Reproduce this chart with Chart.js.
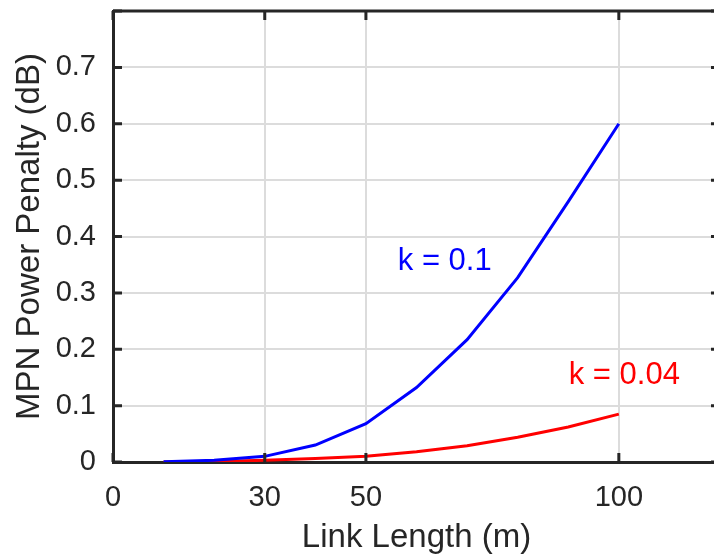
<!DOCTYPE html>
<html>
<head>
<meta charset="utf-8">
<script src="https://cdn.jsdelivr.net/npm/chart.js@4.4.1/dist/chart.umd.min.js"></script>
<style>
  html, body { margin: 0; padding: 0; background: #fff; overflow: hidden; }
  #wrap { width: 714px; height: 558px; overflow: hidden; }
</style>
</head>
<body>
<div id="wrap"><canvas id="myChart" width="724" height="558"></canvas></div>
<script>
// link lengths (m) and penalties (dB)
var linkLength = [10, 20, 30, 40, 50, 60, 70, 80, 90, 100];
var penaltyK01 = [0.0005, 0.003, 0.01, 0.03, 0.068, 0.132, 0.217, 0.327, 0.462, 0.6];
var penaltyK004 = [0.0002, 0.001, 0.003, 0.006, 0.01, 0.018, 0.029, 0.044, 0.062, 0.085];
var xTicks = [0, 30, 50, 100];
var yTicks = [0, 0.1, 0.2, 0.3, 0.4, 0.5, 0.6, 0.7];
var labels = [
  { text: "k = 0.1", x: 56.3, y: 0.355, color: "#0000ff" },
  { text: "k = 0.04", x: 90.1, y: 0.154, color: "#ff0000" }
];

var axisColor = "#262626";
var gridColor = "#dcdcdc";
var font = "'Liberation Sans', Arial, Helvetica, sans-serif";

function toPoints(xs, ys) {
  return xs.map(function (x, i) { return { x: x, y: ys[i] }; });
}

// box, inward ticks and text labels like the matlab figure
var extras = {
  id: "extras",
  afterDraw: function (chart) {
    var ctx = chart.ctx;
    var a = chart.chartArea;
    var xs = chart.scales.x, ys = chart.scales.y;
    ctx.save();
    ctx.strokeStyle = axisColor;
    ctx.lineWidth = 3;
    ctx.beginPath();
    ctx.moveTo(a.left, a.top);
    ctx.lineTo(a.right, a.top);
    ctx.lineTo(a.right, a.bottom);
    ctx.stroke();
    ctx.beginPath();
    xTicks.forEach(function (v) {
      var px = xs.getPixelForValue(v);
      ctx.moveTo(px, a.bottom);
      ctx.lineTo(px, a.bottom - 9);
      ctx.moveTo(px, a.top);
      ctx.lineTo(px, a.top + 9);
    });
    yTicks.concat([0.8]).forEach(function (v) {
      var py = ys.getPixelForValue(v);
      ctx.moveTo(a.left, py);
      ctx.lineTo(a.left + 9, py);
      ctx.moveTo(a.right, py);
      ctx.lineTo(a.right - 9, py);
    });
    ctx.stroke();
    ctx.font = "31px " + font;
    ctx.textBaseline = "middle";
    ctx.textAlign = "left";
    labels.forEach(function (l) {
      ctx.fillStyle = l.color;
      ctx.fillText(l.text, xs.getPixelForValue(l.x), ys.getPixelForValue(l.y));
    });
    ctx.restore();
  }
};

new Chart("myChart", {
  type: "line",
  data: {
    datasets: [
      {
        label: "k = 0.1",
        data: toPoints(linkLength, penaltyK01),
        borderColor: "#0000ff",
        borderWidth: 3,
        pointRadius: 0,
        tension: 0,
        fill: false
      },
      {
        label: "k = 0.04",
        data: toPoints(linkLength, penaltyK004),
        borderColor: "#ff0000",
        borderWidth: 3,
        pointRadius: 0,
        tension: 0,
        fill: false
      }
    ]
  },
  options: {
    responsive: false,
    animation: false,
    devicePixelRatio: 1,
    layout: { padding: { top: 11, right: 4, left: 0, bottom: 0 } },
    plugins: {
      legend: { display: false },
      tooltip: { enabled: false }
    },
    scales: {
      x: {
        type: "linear",
        min: 0,
        max: 120,
        afterBuildTicks: function (scale) {
          scale.ticks = xTicks.map(function (v) { return { value: v }; });
        },
        afterFit: function (scale) {
          scale.height = 96;
          scale.paddingLeft = 0;
          scale.paddingRight = 0;
        },
        grid: { color: gridColor, lineWidth: 2, drawTicks: false },
        border: { color: axisColor, width: 3 },
        ticks: {
          color: axisColor,
          padding: 19,
          maxRotation: 0,
          font: { family: font, size: 29 }
        },
        title: {
          display: true,
          text: "Link Length (m)",
          color: axisColor,
          padding: { top: 4, bottom: 0 },
          font: { family: font, size: 33 }
        }
      },
      y: {
        min: 0,
        max: 0.8,
        afterBuildTicks: function (scale) {
          scale.ticks = yTicks.map(function (v) { return { value: v }; });
        },
        afterFit: function (scale) {
          scale.width = 113;
          scale.paddingTop = 0;
          scale.paddingBottom = 0;
        },
        grid: { color: gridColor, lineWidth: 2, drawTicks: false },
        border: { color: axisColor, width: 3 },
        ticks: {
          color: axisColor,
          padding: 17,
          font: { family: font, size: 29 },
          callback: function (v) {
            return Math.round(v * 10) === 0 ? "0" : (Math.round(v * 10) / 10).toString();
          }
        },
        title: {
          display: true,
          text: "MPN Power Penalty (dB)",
          color: axisColor,
          padding: { top: 10, bottom: 0 },
          font: { family: font, size: 33 }
        }
      }
    }
  },
  plugins: [extras]
});
</script>
</body>
</html>
